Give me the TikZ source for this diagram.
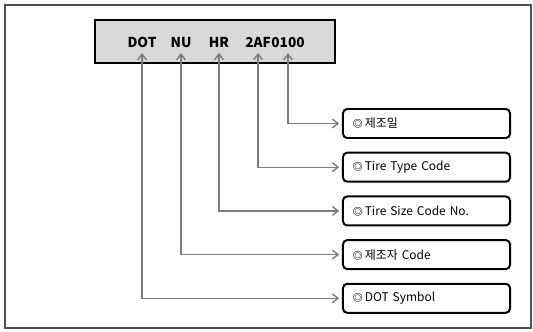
\documentclass[tikz,border=0pt]{standalone}
\usepackage{fontspec}
\setmainfont{Noto Sans CJK KR}
\usetikzlibrary{arrows.meta,positioning}
\definecolor{codegray}{RGB}{217,217,217}
\definecolor{linegray}{RGB}{125,125,125}
\definecolor{framegray}{RGB}{80,80,80}
\newcommand{\dmark}{{\fontsize{7}{8}\selectfont\bfseries ◎}\,}

\begin{document}
\begin{tikzpicture}[
  x=0.025cm, y=-0.025cm,
  node distance=0.318cm,
  infobox/.style={rectangle, rounded corners=3pt, draw=black, line width=1.4pt, fill=white, minimum width=4.175cm, minimum height=0.725cm, text width=3.675cm, inner xsep=0.25cm, align=left, font=\fontsize{8.5}{10}\selectfont},
  codelbl/.style={inner xsep=0pt, inner ysep=4pt, font=\fontsize{9.7}{11}\selectfont\bfseries},
  arr/.style={{Straight Barb[length=1.4mm,width=2.2mm]}-{Straight Barb[length=1.4mm,width=2.2mm]}, line width=1pt, linegray, shorten >=2pt}
]
\useasboundingbox (0,0) rectangle (533,331);
\draw[framegray, line width=0.8pt] (5,5) rectangle (531,328);

% DOT code
\node[draw=black, line width=1.8pt, fill=codegray, minimum width=6cm, minimum height=1.075cm] (code) at (215,41.5) {};
\node[codelbl, anchor=base] (dot) at (142,47) {DOT};
\node[codelbl, anchor=base] (nu) at (181,47) {NU};
\node[codelbl, anchor=base] (hr) at (219,47) {HR};
\node[codelbl, anchor=base west] (ty) at (245,47) {2AF};
\node[codelbl, anchor=base west] (dt) at (ty.base east) {0100};

% explanation boxes
\node[infobox] (b1) at (426.5,123.5) {\dmark 제조일};
\node[infobox, below=of b1] (b2) {\dmark Tire Type Code};
\node[infobox, below=of b2] (b3) {\dmark Tire Size Code No.};
\node[infobox, below=of b3] (b4) {\dmark 제조자 Code};
\node[infobox, below=of b4] (b5) {\dmark DOT Symbol};

\draw[arr] (dt.south) |- (b1.west);
\draw[arr] (ty.south) |- (b2.west);
\draw[arr] (hr.south) |- (b3.west);
\draw[arr] (nu.south) |- (b4.west);
\draw[arr] (dot.south) |- (b5.west);
\end{tikzpicture}
\end{document}
